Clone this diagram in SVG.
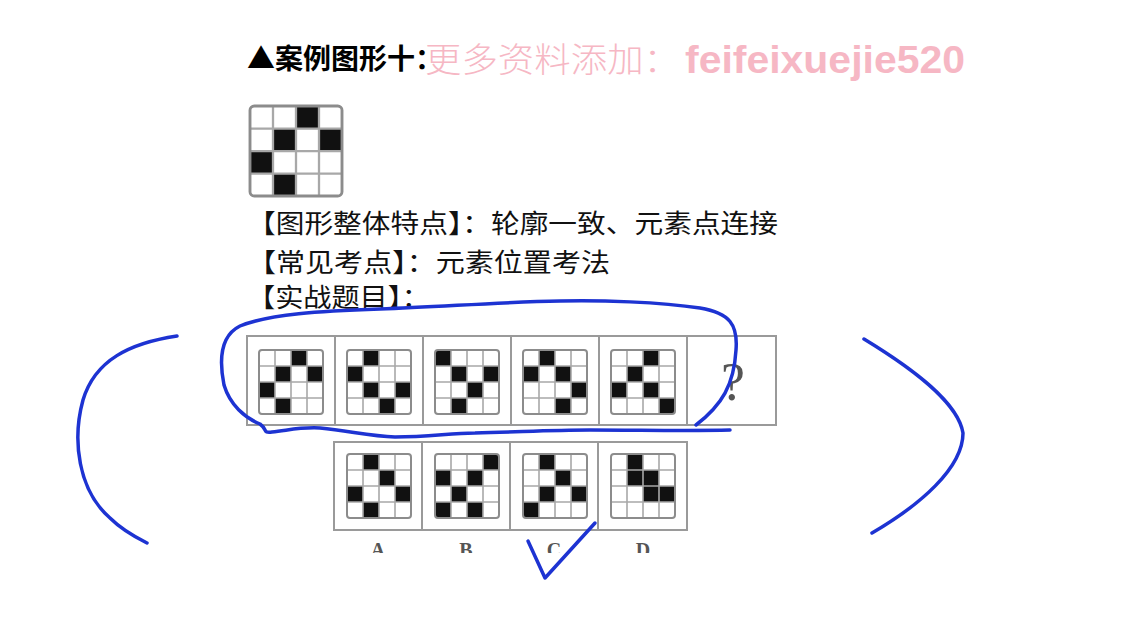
<svg xmlns="http://www.w3.org/2000/svg" xmlns:xlink="http://www.w3.org/1999/xlink" width="1133" height="623" viewBox="0 0 1133 623">
<style>
.bg{fill:#ffffff}
.cjk{font-family:"Noto Sans CJK SC","Noto Sans",sans-serif}
.title{font-size:28px;font-weight:bold;fill:#000}
.body{font-size:26px;fill:#111}
.wm{fill:#f6b7c4}
.box{fill:#fff;stroke:#9a9a9a;stroke-width:2}
.gl{fill:none;stroke:#a8a8a8;stroke-width:1.6}
.gb{fill:none;stroke:#8c8c8c;stroke-width:2}
.blk{fill:#111}
.lbl{font-family:"Liberation Serif",serif;font-size:20px;font-weight:bold;fill:#555;text-anchor:middle}
.ink{fill:none;stroke:#1d33d2;stroke-width:3.5;stroke-linecap:round;stroke-linejoin:round}
</style>
<defs>
<g id="grid-lines">
<path class="gl" d="M16,0V64M32,0V64M48,0V64M0,16H64M0,32H64M0,48H64"/>
<rect class="gb" x="0" y="0" width="64" height="64" rx="3"/>
</g>
<clipPath id="lblclip"><rect x="0" y="0" width="1133" height="553"/></clipPath>
</defs>
<rect class="bg" width="1133" height="623"/>

<g id="title">
<text class="cjk title" x="247" y="69">▲案例图形十：</text>
</g>
<g id="watermark">
<text class="cjk wm" x="425" y="72" font-size="34" font-weight="300" textLength="255" lengthAdjust="spacingAndGlyphs">更多资料添加：</text>
<text class="wm" x="685" y="73" font-family="Liberation Sans,Arial,sans-serif" font-size="38" font-weight="bold" textLength="280" lengthAdjust="spacingAndGlyphs">feifeixuejie520</text>
</g>

<g id="sample-grid" transform="translate(250,106) scale(1.4375,1.40625)">
<rect x="0" y="0" width="64" height="64" fill="#fff"/>
<rect class="blk" x="32" y="0" width="16" height="16"/>
<rect class="blk" x="16" y="16" width="16" height="16"/>
<rect class="blk" x="48" y="16" width="16" height="16"/>
<rect class="blk" x="0" y="32" width="16" height="16"/>
<rect class="blk" x="16" y="48" width="16" height="16"/>
<use xlink:href="#grid-lines" href="#grid-lines"/>
</g>

<g id="text-lines">
<text class="cjk body" x="247" y="233" textLength="531" lengthAdjust="spacingAndGlyphs">【图形整体特点】：轮廓一致、元素点连接</text>
<text class="cjk body" x="247" y="272" textLength="363" lengthAdjust="spacingAndGlyphs">【常见考点】：元素位置考法</text>
<text class="cjk body" x="247" y="307" textLength="183" lengthAdjust="spacingAndGlyphs">【实战题目】：</text>
</g>

<g id="sequence">
<rect class="box" x="247" y="336" width="88" height="89"/>
<rect class="box" x="335" y="336" width="88" height="89"/>
<rect class="box" x="423" y="336" width="88" height="89"/>
<rect class="box" x="511" y="336" width="88" height="89"/>
<rect class="box" x="599" y="336" width="88" height="89"/>
<rect class="box" x="687" y="336" width="89" height="89"/>
</g>
<g id="seq-1" transform="translate(259,350)">
<rect width="64" height="64" fill="#fff"/>
<rect class="blk" x="32" y="0" width="16" height="16"/><rect class="blk" x="16" y="16" width="16" height="16"/><rect class="blk" x="48" y="16" width="16" height="16"/><rect class="blk" x="0" y="32" width="16" height="16"/><rect class="blk" x="16" y="48" width="16" height="16"/>
<use xlink:href="#grid-lines" href="#grid-lines"/>
</g>
<g id="seq-2" transform="translate(347,350)">
<rect width="64" height="64" fill="#fff"/>
<rect class="blk" x="16" y="0" width="16" height="16"/><rect class="blk" x="0" y="16" width="16" height="16"/><rect class="blk" x="16" y="32" width="16" height="16"/><rect class="blk" x="48" y="32" width="16" height="16"/><rect class="blk" x="32" y="48" width="16" height="16"/>
<use xlink:href="#grid-lines" href="#grid-lines"/>
</g>
<g id="seq-3" transform="translate(435,350)">
<rect width="64" height="64" fill="#fff"/>
<rect class="blk" x="0" y="0" width="16" height="16"/><rect class="blk" x="16" y="16" width="16" height="16"/><rect class="blk" x="48" y="16" width="16" height="16"/><rect class="blk" x="32" y="32" width="16" height="16"/><rect class="blk" x="16" y="48" width="16" height="16"/>
<use xlink:href="#grid-lines" href="#grid-lines"/>
</g>
<g id="seq-4" transform="translate(523,350)">
<rect width="64" height="64" fill="#fff"/>
<rect class="blk" x="16" y="0" width="16" height="16"/><rect class="blk" x="0" y="16" width="16" height="16"/><rect class="blk" x="32" y="16" width="16" height="16"/><rect class="blk" x="48" y="32" width="16" height="16"/><rect class="blk" x="32" y="48" width="16" height="16"/>
<use xlink:href="#grid-lines" href="#grid-lines"/>
</g>
<g id="seq-5" transform="translate(611,350)">
<rect width="64" height="64" fill="#fff"/>
<rect class="blk" x="32" y="0" width="16" height="16"/><rect class="blk" x="16" y="16" width="16" height="16"/><rect class="blk" x="0" y="32" width="16" height="16"/><rect class="blk" x="32" y="32" width="16" height="16"/><rect class="blk" x="48" y="48" width="16" height="16"/>
<use xlink:href="#grid-lines" href="#grid-lines"/>
</g>
<g id="seq-q">
<text x="733" y="400" font-family="Liberation Serif,serif" font-size="54" fill="#555" text-anchor="middle">?</text>
</g>

<g id="options">
<rect class="box" x="334" y="442" width="88" height="88"/>
<rect class="box" x="422" y="442" width="88" height="88"/>
<rect class="box" x="510" y="442" width="88" height="88"/>
<rect class="box" x="598" y="442" width="89" height="88"/>
</g>
<g id="opt-A" transform="translate(347,454)">
<rect width="64" height="64" fill="#fff"/>
<rect class="blk" x="16" y="0" width="16" height="16"/><rect class="blk" x="32" y="16" width="16" height="16"/><rect class="blk" x="0" y="32" width="16" height="16"/><rect class="blk" x="48" y="32" width="16" height="16"/><rect class="blk" x="16" y="48" width="16" height="16"/>
<use xlink:href="#grid-lines" href="#grid-lines"/>
</g>
<g id="opt-B" transform="translate(435,454)">
<rect width="64" height="64" fill="#fff"/>
<rect class="blk" x="48" y="0" width="16" height="16"/><rect class="blk" x="0" y="16" width="16" height="16"/><rect class="blk" x="32" y="16" width="16" height="16"/><rect class="blk" x="16" y="32" width="16" height="16"/><rect class="blk" x="0" y="48" width="16" height="16"/><rect class="blk" x="32" y="48" width="16" height="16"/>
<use xlink:href="#grid-lines" href="#grid-lines"/>
</g>
<g id="opt-C" transform="translate(523,454)">
<rect width="64" height="64" fill="#fff"/>
<rect class="blk" x="16" y="0" width="16" height="16"/><rect class="blk" x="32" y="16" width="16" height="16"/><rect class="blk" x="16" y="32" width="16" height="16"/><rect class="blk" x="48" y="32" width="16" height="16"/><rect class="blk" x="0" y="48" width="16" height="16"/>
<use xlink:href="#grid-lines" href="#grid-lines"/>
</g>
<g id="opt-D" transform="translate(611,454)">
<rect width="64" height="64" fill="#fff"/>
<rect class="blk" x="16" y="0" width="16" height="16"/><rect class="blk" x="16" y="16" width="16" height="16"/><rect class="blk" x="32" y="16" width="16" height="16"/><rect class="blk" x="32" y="32" width="16" height="16"/><rect class="blk" x="48" y="32" width="16" height="16"/>
<use xlink:href="#grid-lines" href="#grid-lines"/>
</g>
<g id="option-labels" clip-path="url(#lblclip)">
<text class="lbl" x="378" y="557">A</text>
<text class="lbl" x="466" y="557">B</text>
<text class="lbl" x="554" y="557">C</text>
<text class="lbl" x="643" y="557">D</text>
</g>

<g id="connectors">
<path class="ink" d="M696,425 C722,405 734,385 736,350 C738,325 730,313 700,308 C660,302 600,300 560,301 C500,302 440,307 380,309 C320,311 270,314 240,326 C220,336 219,360 224,385 C230,405 245,418 260,424 C268,430 262,433 272,432 C290,430 300,427 320,428 C350,431 370,436 395,437 C430,437 450,433 475,433 C520,432 550,430 590,430 C640,430 690,431 730,430"/>
<path class="ink" d="M177,336 C130,343 95,360 83,400 C72,440 78,490 110,518 C122,530 135,537 147,543"/>
<path class="ink" d="M864,339 C915,370 958,403 963,433 C963,468 920,505 872,533"/>
<path class="ink" d="M528,541 L545,578 L595,523"/>
</g>
</svg>
